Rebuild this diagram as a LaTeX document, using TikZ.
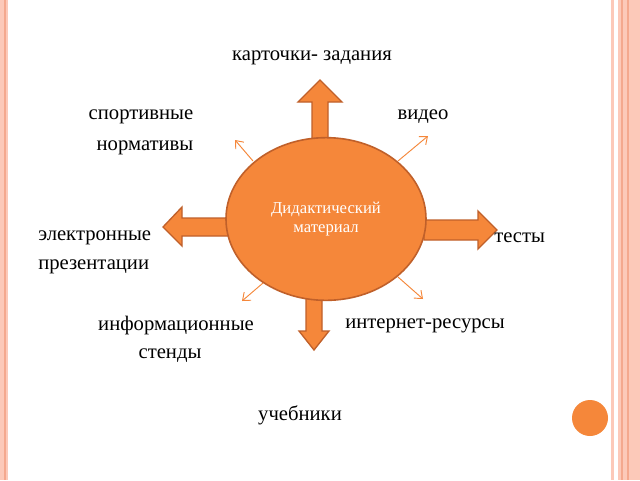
\documentclass[tikz,border=0pt]{standalone}
\usepackage{fontspec}
\setmainfont{Liberation Serif}
\usetikzlibrary{shapes.geometric,arrows.meta}
\begin{document}
\begin{tikzpicture}[x=0.75pt,y=-0.75pt]
\definecolor{org}{HTML}{F5873A}
\definecolor{orgd}{HTML}{C0602A}
\definecolor{pk}{HTML}{FCC9B9}
\definecolor{pkd}{HTML}{F4A88E}
\tikzset{lbl/.style={font=\fontsize{15.5pt}{18pt}\selectfont,inner sep=0pt},
 blk/.style={fill=org,draw=orgd,line width=1pt,line join=miter},
 thin/.style={draw=org,line width=0.7pt,-{Straight Barb[length=5pt,width=8pt]}}}
\useasboundingbox (0,0) rectangle (640,480);
\fill[white] (0,0) rectangle (640,480);
% borders
\fill[pk] (0,0) rectangle (8,480);
\draw[pkd,line width=0.8pt] (5,0) -- (5,480);
\fill[pk] (611,0) rectangle (614,480);
\fill[pk] (618,0) rectangle (640,480);
\draw[pkd,line width=1pt] (622,0) -- (622,480) (628,0) -- (628,480);
\fill[org] (590,418) circle (18);
% block arrows
\draw[blk] (312,140) -- (312,102) -- (298,102) -- (320,80) -- (342,102) -- (328,102) -- (328,140) -- cycle;
\draw[blk] (228,218) -- (182,218) -- (182,207) -- (163,227) -- (182,246) -- (182,236) -- (228,236) -- cycle;
\draw[blk] (424,220) -- (478,220) -- (478,211) -- (497,230) -- (478,249) -- (478,240) -- (424,240) -- cycle;
\draw[blk] (306,298) -- (306,331) -- (299,331) -- (314,350) -- (329,331) -- (322,331) -- (322,298) -- cycle;
% thin arrows
\coordinate (ul) at (235,140); \coordinate (ur) at (428,136);
\coordinate (ll) at (242,301); \coordinate (lr) at (423,299);
\draw[thin] (253,161) -- (ul);
\draw[thin] (398,161) -- (ur);
\draw[thin] (270,277) -- (ll);
\draw[thin] (398,277) -- (lr);
\node[fill=org,draw=orgd,line width=1.2pt,ellipse,minimum width=150pt,minimum height=122pt,inner sep=0pt,text=white,align=center,font=\fontsize{12.5pt}{14pt}\selectfont] (c) at (326,219) {Дидактический\\материал};
% labels
\node[lbl] (t1) at (312,58) {карточки- задания};
\node[lbl] (t2) at (141,117) {спортивные};
\node[lbl] (t3) at (145,148) {нормативы};
\node[lbl] (t4) at (423,117) {видео};
\node[lbl,anchor=west] (t5) at (38,238) {электронные};
\node[lbl,anchor=west] (t6) at (38,267) {презентации};
\node[lbl,anchor=west] (t7) at (494,238) {тесты};
\node[lbl] (t8) at (176,326) {информационные};
\node[lbl] (t9) at (170,356) {стенды};
\node[lbl] (t10) at (425,326) {интернет-ресурсы};
\node[lbl] (t11) at (300,415) {учебники};
\end{tikzpicture}
\end{document}
